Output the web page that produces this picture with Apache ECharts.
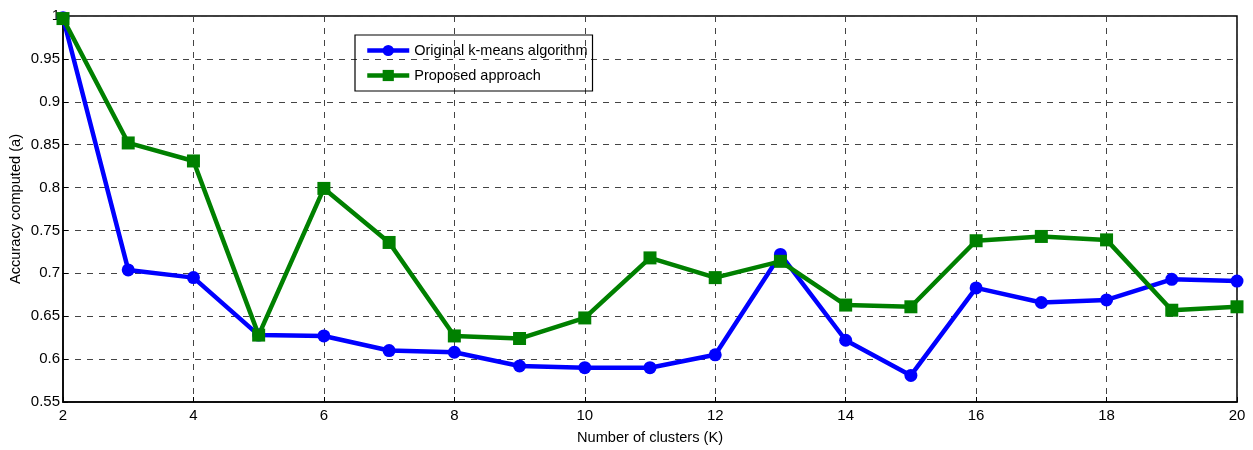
<!DOCTYPE html>
<html>
<head>
<meta charset="utf-8">
<script src="https://cdn.jsdelivr.net/npm/echarts@6/dist/echarts.min.js"></script>
<style>html,body{margin:0;padding:0;background:#fff;}#c{width:1253px;height:450px;}</style>
</head>
<body>
<div id="c"></div>
<script>
var clusters = [2,3,4,5,6,7,8,9,10,11,12,13,14,15,16,17,18,19,20];
var originalKMeans = [0.998,0.704,0.695,0.628,0.627,0.610,0.608,0.592,0.590,0.590,0.605,0.722,0.622,0.581,0.683,0.666,0.669,0.693,0.691];
var proposed = [0.997,0.852,0.831,0.628,0.799,0.736,0.627,0.624,0.648,0.718,0.695,0.714,0.663,0.661,0.738,0.743,0.739,0.657,0.661];
var seriesNames = ['Original k-means algorithm','Proposed approach'];
var xTitle = 'Number of clusters (K)';
var yTitle = 'Accuracy computed (a)';

function pairs(xs, ys){ return xs.map(function(x,i){ return [x, ys[i]]; }); }

var font = 'Liberation Sans, Arial, sans-serif';
var chart = echarts.init(document.getElementById('c'), null, {renderer:'canvas'});
chart.setOption({
  animation:false,
  backgroundColor:'#fff',
  grid:{left:63, right:16, top:16, bottom:48, show:true, containLabel:false, outerBoundsMode:'none',
        borderColor:'#000', borderWidth:1.5, backgroundColor:'transparent'},
  legend:{
    left:355, top:35, orient:'vertical',
    borderColor:'#000', borderWidth:1.2, padding:[8,5,8,10],
    itemWidth:42, itemHeight:14, itemGap:10,
    lineStyle:{width:4.5},
    textStyle:{fontFamily:font, fontSize:14.5, color:'#000'},
    data:seriesNames
  },
  xAxis:{
    type:'value', min:2, max:20, interval:2,
    name:xTitle, nameLocation:'middle', nameGap:28, nameMoveOverlap:false,
    nameTextStyle:{fontFamily:font, fontSize:14.6, color:'#000'},
    axisLine:{show:true, lineStyle:{color:'#000', width:1.5}},
    axisTick:{show:true, inside:true, length:5, lineStyle:{color:'#000'}},
    axisLabel:{fontFamily:font, fontSize:15, color:'#000', margin:6},
    splitLine:{show:true, lineStyle:{color:'#444', type:[6,6], width:1}}
  },
  yAxis:{
    type:'value', min:0.55, max:1, interval:0.05,
    name:yTitle, nameLocation:'middle', nameGap:40, nameMoveOverlap:false,
    nameTextStyle:{fontFamily:font, fontSize:14.6, color:'#000'},
    axisLine:{show:true, lineStyle:{color:'#000', width:1.5}},
    axisTick:{show:true, inside:true, length:5, lineStyle:{color:'#000'}},
    axisLabel:{fontFamily:font, fontSize:15, color:'#000', margin:3,
      formatter:function(v){ return String(Number(v.toFixed(2))); }},
    splitLine:{show:true, lineStyle:{color:'#444', type:[6,6], width:1}}
  },
  series:[
    {name:seriesNames[0], type:'line', data:pairs(clusters, originalKMeans),
     symbol:'circle', symbolSize:13, color:'#0000ff',
     lineStyle:{width:4.5, color:'#0000ff'}, itemStyle:{color:'#0000ff'}},
    {name:seriesNames[1], type:'line', data:pairs(clusters, proposed),
     symbol:'rect', symbolSize:13, color:'#008000',
     lineStyle:{width:4.5, color:'#008000'}, itemStyle:{color:'#008000'}}
  ]
});
</script>
</body>
</html>
